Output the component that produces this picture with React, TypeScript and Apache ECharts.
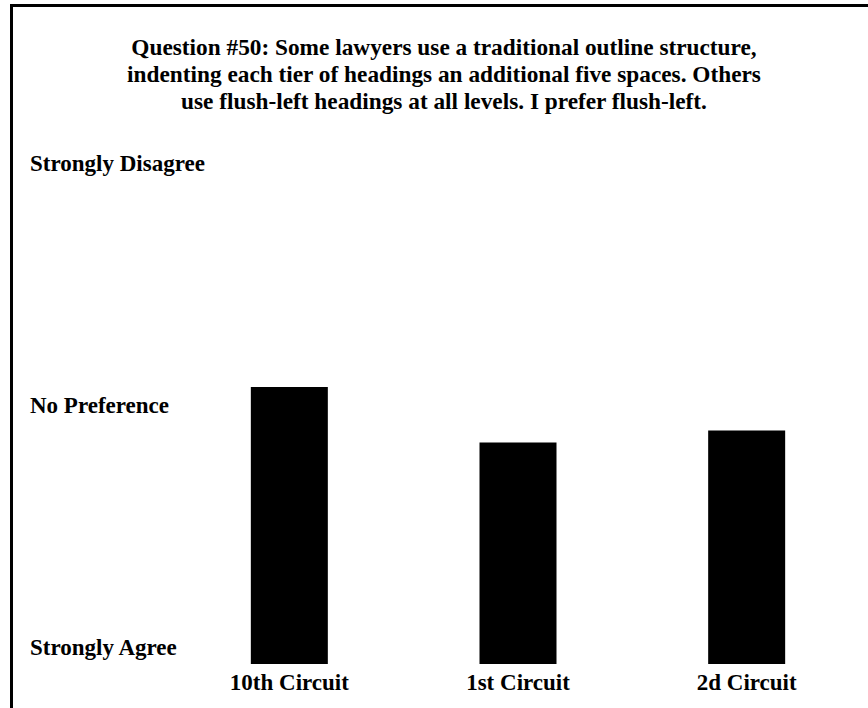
import React, { useEffect, useRef } from "react";
import * as echarts from "echarts";

const titleLines = [
  "Question #50: Some lawyers use a traditional outline structure,",
  "indenting each tier of headings an additional five spaces. Others",
  "use flush-left headings at all levels. I prefer flush-left.",
];
const categories = ["10th Circuit", "1st Circuit", "2d Circuit"];
const values = [3.29, 2.83, 2.93];
const scaleLabels: Record<number, string> = {
  1: "Strongly Agree",
  3: "No Preference",
  5: "Strongly Disagree",
};

const FONT = "'Liberation Serif', 'Times New Roman', serif";

export default function App() {
  const ref = useRef<HTMLDivElement>(null);
  useEffect(() => {
    if (!ref.current) return;
    const chart = echarts.init(ref.current, undefined, { renderer: "svg" });
    chart.setOption({
      animation: false,
      backgroundColor: "#ffffff",
      title: {
        text: titleLines.join("\n"),
        left: 439,
        top: 28,
        textAlign: "center",
        textStyle: {
          fontFamily: FONT,
          fontWeight: "bold",
          fontSize: 23.3,
          lineHeight: 27,
          color: "#000",
        },
      },
      graphic: [
        {
          type: "polyline",
          shape: { points: [[11.5, 708], [11.5, 5.5], [868, 5.5]] },
          style: { stroke: "#000", lineWidth: 3, fill: "none" },
          silent: true,
        },
      ],
      grid: { left: 175, right: 7, top: 180, bottom: 44, containLabel: false },
      xAxis: {
        type: "category",
        data: categories,
        axisLine: { show: false },
        axisTick: { show: false },
        axisLabel: {
          margin: 7,
          fontFamily: FONT,
          fontWeight: "bold",
          fontSize: 23,
          color: "#000",
        },
      },
      yAxis: {
        type: "value",
        min: 1,
        max: 5,
        interval: 1,
        startValue: 1,
        axisLine: { show: false },
        axisTick: { show: false },
        splitLine: { show: false },
        axisLabel: {
          formatter: (v: number) => scaleLabels[v] ?? "",
          align: "left",
          margin: 145,
          verticalAlign: "bottom",
          lineHeight: 34,
          fontFamily: FONT,
          fontWeight: "bold",
          fontSize: 23,
          color: "#000",
        },
      },
      series: [
        {
          type: "bar",
          data: values,
          barWidth: 77,
          itemStyle: { color: "#000" },
          clip: true,
        },
      ],
    });
    return () => chart.dispose();
  }, []);
  return (
    <div
      ref={ref}
      style={{ position: "fixed", left: 0, top: 0, width: 868, height: 708 }}
    />
  );
}
